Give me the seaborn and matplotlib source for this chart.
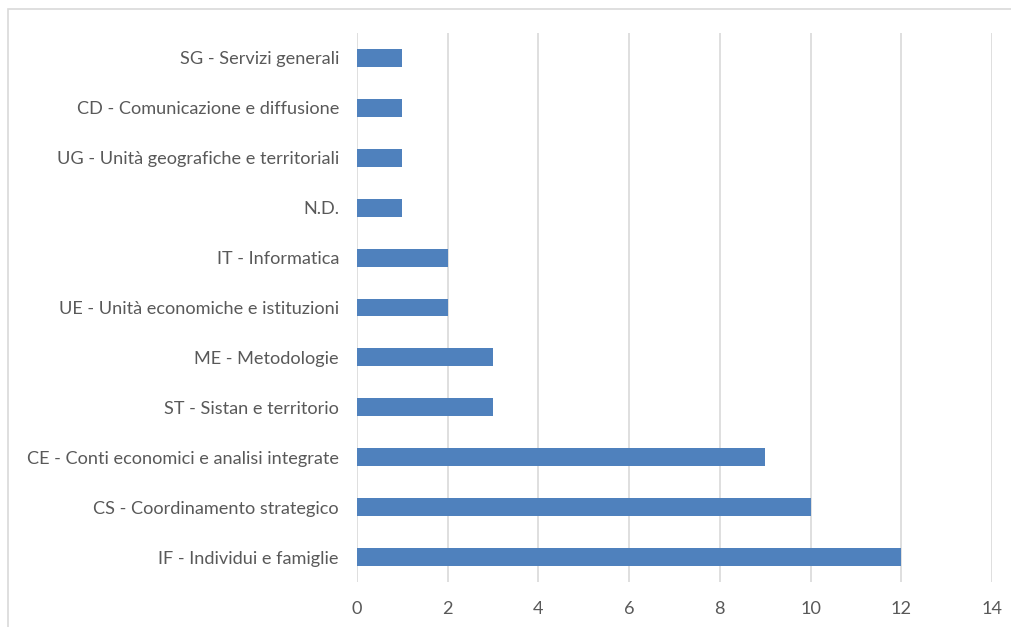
import matplotlib
matplotlib.use("Agg")
import matplotlib.pyplot as plt
import seaborn as sns
import pandas as pd
from matplotlib.patches import Rectangle

categories = [
    "SG - Servizi generali",
    "CD - Comunicazione e diffusione",
    "UG - Unità geografiche e territoriali",
    "N.D.",
    "IT - Informatica",
    "UE - Unità economiche e istituzioni",
    "ME - Metodologie",
    "ST - Sistan e territorio",
    "CE - Conti economici e analisi integrate",
    "CS - Coordinamento strategico",
    "IF - Individui e famiglie",
]
values = [1, 1, 1, 1, 2, 2, 3, 3, 9, 10, 12]
x_ticks = [0, 2, 4, 6, 8, 10, 12, 14]

df = pd.DataFrame({"cat": categories, "val": values})

sns.set_theme(style="white")
plt.rcParams["font.family"] = ["Lato", "DejaVu Sans"]

W, H = 1011, 627
fig = plt.figure(figsize=(W / 100, H / 100), dpi=100)
ax = fig.add_axes([357 / W, 1 - 582 / H, (992 - 357) / W, (582 - 33) / H])

sns.barplot(data=df, y="cat", x="val", orient="h", color="#4F81BD",
            saturation=1, width=0.36, ax=ax, zorder=3, linewidth=0)

ax.set_xlim(0, 14)
ax.set_ylim(len(categories) - 0.5, -0.5)
ax.set_xticks(x_ticks)
ax.set_xticklabels([str(t) for t in x_ticks])
ax.grid(axis="x", color="#D9D9D9", linewidth=1.2, zorder=0)
ax.grid(axis="y", visible=False)
for s in ax.spines.values():
    s.set_visible(False)
ax.set_xlabel("")
ax.set_ylabel("")
ax.tick_params(axis="both", length=0, labelsize=13.1, colors="#595959")
ax.tick_params(axis="x", pad=14)
ax.tick_params(axis="y", pad=13)

fig.patches.append(Rectangle((8 / W, -0.1), 1.2, 1 - 9 / H + 0.1,
                             transform=fig.transFigure, fill=False,
                             edgecolor="#D9D9D9", linewidth=1.2))

fig.savefig("out.png", dpi=100)
